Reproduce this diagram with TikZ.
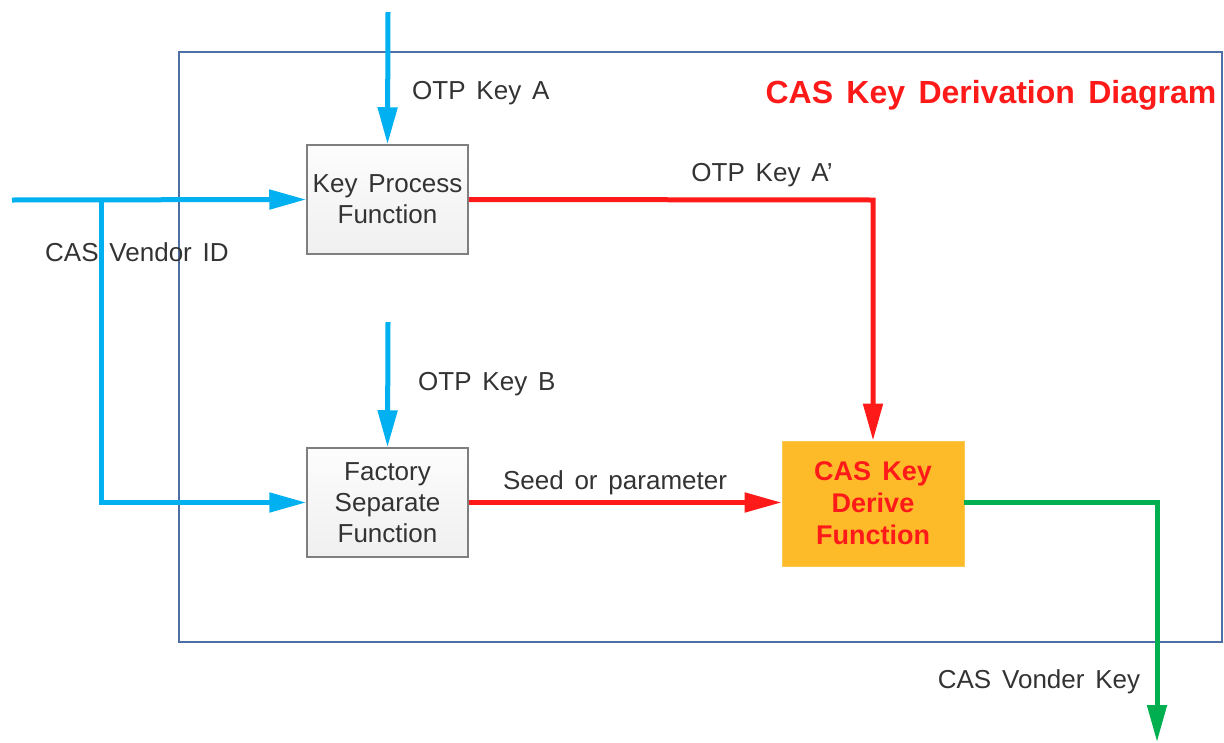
\documentclass[tikz,border=0pt]{standalone}
\usepackage{fontspec}
\setmainfont[WordSpace=1.5]{Liberation Sans}
\usetikzlibrary{arrows.meta}
\definecolor{flowblue}{HTML}{00B0F0}
\definecolor{flowred}{HTML}{FF1A1A}
\definecolor{flowgreen}{HTML}{00B050}
\definecolor{derivefill}{HTML}{FDBB2A}
\definecolor{framecol}{HTML}{4E6FA5}
\definecolor{textgray}{HTML}{333333}
\definecolor{boxedge}{HTML}{7F7F7F}
\tikzset{
  procbox/.style={draw=boxedge, line width=1.5pt, top color=white!98!gray, bottom color=white!88!gray,
    minimum width=161pt, minimum height=109pt, align=center, inner sep=2pt,
    text=textgray, font=\fontsize{26}{31}\selectfont},
  derivebox/.style={fill=derivefill, draw=derivefill!80!white, line width=0.8pt,
    minimum width=182pt, minimum height=125pt, align=center,
    text=flowred, font=\bfseries\fontsize{27}{32}\selectfont},
  lbl/.style={text=textgray, font=\fontsize{26}{31}\selectfont, inner sep=0pt},
  flow/.style={line width=5pt, -{Triangle[length=37pt,width=19pt]}},
}
\begin{document}
\begin{tikzpicture}[x=1pt,y=-1pt]
\useasboundingbox (0,0) rectangle (1224,742);
% outer frame
\draw[framecol, line width=1.2pt] (179,52) rectangle (1222,642);
\node[text=flowred, font=\bfseries\fontsize{32}{38}\selectfont, inner sep=0pt] (title) at (991,95) {CAS Key Derivation Diagram};

% function blocks
\node[procbox] (kp) at (387.5,199.5) {Key Process\\Function};
\node[procbox] (fs) at (387.5,502.5) {Factory\\Separate\\Function};
\node[derivebox] (kd) at (873,503.5) {CAS Key\\Derive\\Function};

% labels
\node[lbl, anchor=west] (lA) at (412,93) {OTP Key A};
\node[lbl, anchor=west] (lB) at (418,384) {OTP Key B};
\node[lbl, anchor=west] (lV) at (45,252) {CAS Vendor ID};
\node[lbl] (lA2) at (762,175) {OTP Key A’};
\node[lbl] (lS) at (615,483) {Seed or parameter};
\node[lbl] (lK) at (1039,682) {CAS Vonder Key};

% free ends
\coordinate (inA) at (388,12);
\coordinate (inB) at (388,322);
\coordinate (inV) at (12,200);
\coordinate (split) at (101,200);
\coordinate (cornerR) at (873,200);
\coordinate (cornerG) at (1157,502);
\coordinate (outK) at (1157,742);

% inputs
\draw[flow, flowblue] (inA) -- (kp.north);
\draw[flow, flowblue] (inB) -- (fs.north);
\draw[flow, flowblue] (inV) -- (kp.west);
\draw[flow, flowblue] (split) |- (fs.west);

% derivation paths
\draw[flow, flowred] (kp.east) -- (cornerR) -- (kd.north);
\draw[flow, flowred] (fs.east) -- (fs.east -| kd.west);
\draw[flow, flowgreen] (kd.east |- cornerG) -- (cornerG) -- (outK);
\end{tikzpicture}
\end{document}
